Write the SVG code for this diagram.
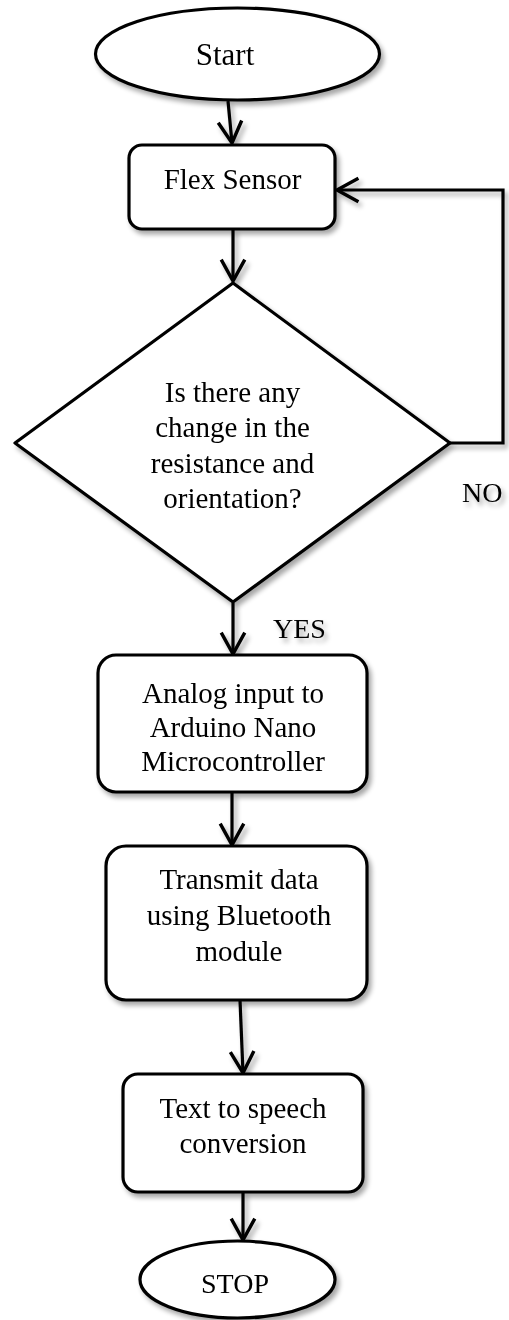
<svg xmlns="http://www.w3.org/2000/svg" width="509" height="1320" viewBox="0 0 509 1320">
<style>
.shape{fill:#fff;stroke:#000;stroke-width:3.2;stroke-linejoin:round}
.line{fill:none;stroke:#000;stroke-width:3.2}
.t{font-family:"Liberation Serif","Times New Roman",serif;font-size:29px;fill:#000;text-anchor:middle}
.lbl{font-family:"Liberation Serif","Times New Roman",serif;font-size:28px;fill:#000}
</style>
<defs>
<filter id="sh" x="-20%" y="-20%" width="140%" height="140%">
<feGaussianBlur in="SourceAlpha" stdDeviation="2.5"/>
<feOffset dx="3" dy="4" result="b"/>
<feComponentTransfer><feFuncA type="linear" slope="0.35"/></feComponentTransfer>
<feMerge><feMergeNode/><feMergeNode in="SourceGraphic"/></feMerge>
</filter>
<marker id="arr" markerUnits="userSpaceOnUse" markerWidth="30" markerHeight="30" refX="0" refY="0" viewBox="-24 -14 28 28" orient="auto" overflow="visible">
<path d="M-20,-11 L0,0 L-20,11" fill="none" stroke="#000" stroke-width="3.2" stroke-linejoin="miter"/>
</marker>
</defs>
<g id="connectors" filter="url(#sh)">
<line class="line" x1="228" y1="101" x2="232" y2="143" marker-end="url(#arr)"/>
<line class="line" x1="233" y1="229" x2="233" y2="281" marker-end="url(#arr)"/>
<polyline class="line" points="450,443 503,443 503,190 337,190" marker-end="url(#arr)"/>
<line class="line" x1="233" y1="603" x2="233" y2="654" marker-end="url(#arr)"/>
<line class="line" x1="232" y1="793" x2="232" y2="845" marker-end="url(#arr)"/>
<line class="line" x1="240" y1="1000" x2="243" y2="1073" marker-end="url(#arr)"/>
<line class="line" x1="243" y1="1192" x2="243" y2="1240" marker-end="url(#arr)"/>
<text class="lbl" x="462" y="502">NO</text>
<text class="lbl" x="273" y="638">YES</text>
</g>
<g id="start" filter="url(#sh)">
<ellipse class="shape" cx="237.5" cy="54" rx="142" ry="46"/>
<text class="t" x="225" y="65" style="font-size:31px">Start</text>
</g>
<g id="flex" filter="url(#sh)">
<rect class="shape" x="129" y="145" width="206" height="84" rx="13"/>
<text class="t" x="232.5" y="189">Flex Sensor</text>
</g>
<g id="decision" filter="url(#sh)">
<polygon class="shape" points="233,283 450,443 233,602 15,443"/>
<text class="t" x="232.5" y="402">Is there any</text>
<text class="t" x="232.5" y="437">change in the</text>
<text class="t" x="232.5" y="473">resistance and</text>
<text class="t" x="232.5" y="508">orientation?</text>
</g>
<g id="analog" filter="url(#sh)">
<rect class="shape" x="98" y="655" width="269" height="137" rx="18"/>
<text class="t" x="233" y="703">Analog input to</text>
<text class="t" x="233" y="737">Arduino Nano</text>
<text class="t" x="233" y="771">Microcontroller</text>
</g>
<g id="transmit" filter="url(#sh)">
<rect class="shape" x="106" y="846" width="261" height="154" rx="20"/>
<text class="t" x="239" y="889">Transmit data</text>
<text class="t" x="239" y="925">using Bluetooth</text>
<text class="t" x="239" y="961">module</text>
</g>
<g id="tts" filter="url(#sh)">
<rect class="shape" x="123" y="1074" width="240" height="118" rx="15"/>
<text class="t" x="243" y="1118">Text to speech</text>
<text class="t" x="243" y="1153">conversion</text>
</g>
<g id="stop" filter="url(#sh)">
<ellipse class="shape" cx="237.5" cy="1279.5" rx="97.5" ry="38.5"/>
<text class="t" x="235" y="1293" style="font-size:28px">STOP</text>
</g>
</svg>
